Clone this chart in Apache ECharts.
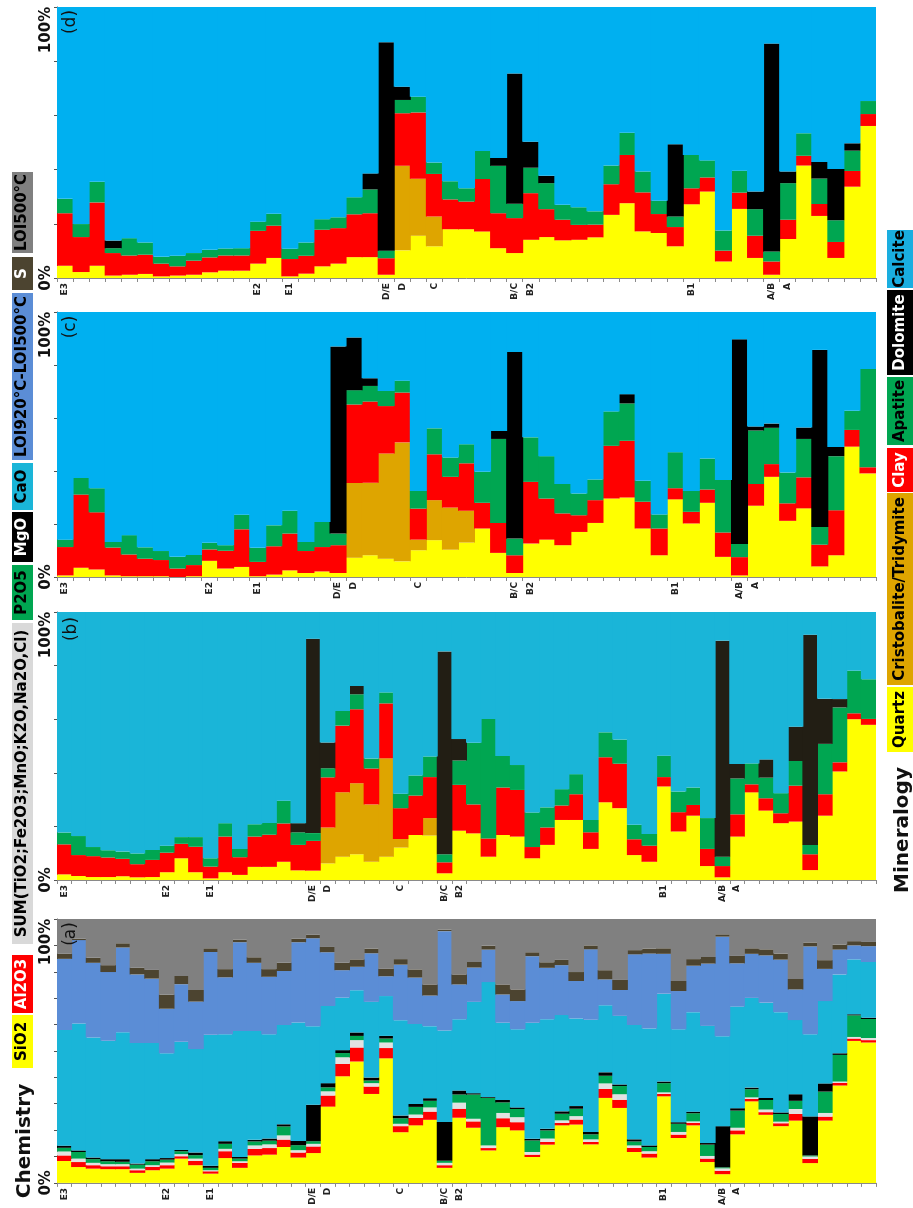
<!DOCTYPE html>
<html><head><meta charset="utf-8">
<script src="https://cdn.jsdelivr.net/npm/echarts/dist/echarts.min.js"></script>
<style>html,body{margin:0;padding:0;background:#fff}#c{width:913px;height:1208px}</style>
</head><body><div id="c"></div>
<script>
// ---------- category (stratigraphic) labels ----------
const unitNames = ['E3','E2','E1','D/E','D','C','B/C','B2','B1','A/B','A'];
const unitIdxAB = [0,7,10,17,18,23,26,27,41,45,46];
const unitIdxC  = [0,9,12,17,18,22,28,29,38,42,43];
const unitIdxD  = [0,12,14,20,21,23,28,29,39,44,45];

// ---------- (a) Chemistry, 56 samples (%) ----------
const aSiO2 = [8.3,6.0,5.4,5.2,5.2,3.8,4.8,5.4,9.2,6.7,3.5,9.4,5.7,10.4,10.7,13.6,9.6,11.3,28.9,40.4,46.0,33.7,47.2,19.2,21.8,23.9,5.7,24.7,20.9,12.3,21.1,19.9,9.8,14.5,21.8,22.1,14.6,32.2,28.4,11.7,9.6,32.8,17.0,21.8,7.9,3.3,18.4,30.9,25.8,21.5,23.6,7.5,23.6,36.9,53.8,53.2];
const aAl2O3 = [2.1,1.9,1.3,1.1,1.1,1.0,1.3,1.3,0.9,1.6,0.9,2.6,1.9,2.5,2.5,2.8,1.9,2.5,4.2,4.7,5.3,2.8,3.9,2.3,2.8,3.1,1.0,3.4,2.4,0.9,3.4,3.1,0.9,1.0,0.9,1.9,0.9,3.4,3.1,1.6,1.5,0.9,1.3,0.9,1.3,1.3,1.5,0.9,1.0,1.1,2.5,1.6,1.5,1.0,0.9,0.9];
const aSUM = [1.5,1.3,0.9,0.8,0.8,0.6,0.6,1.0,0.8,0.9,0.4,0.9,0.6,1.3,1.4,1.6,0.9,1.0,1.6,2.5,2.8,1.3,2.1,0.9,1.3,1.6,0.9,2.3,1.0,1.0,2.0,1.9,1.0,1.3,1.0,1.3,1.0,2.1,2.1,0.9,0.9,0.6,1.0,0.6,1.0,0.9,1.0,0.6,1.0,0.6,1.9,0.9,1.4,0.5,0.6,0.8];
const aP2O5 = [1.4,2.5,1.4,1.1,0.9,1.5,1.5,1.1,1.1,1.3,0.9,1.9,1.0,1.5,1.4,3.4,1.9,1.0,1.5,1.6,1.6,1.0,1.5,2.1,2.9,2.5,0.8,3.1,9.2,18.0,4.0,3.1,4.4,3.1,2.5,2.8,1.9,2.9,3.1,1.5,1.6,3.5,3.1,3.1,4.3,0.4,6.5,3.1,3.6,2.9,3.1,0.4,8.1,10.1,8.2,7.2];
const aMgO = [0.8,0.6,0.6,0.8,1.0,0.4,0.8,0.6,0.5,1.0,0.8,1.0,0.6,0.6,0.8,0.8,1.6,13.8,1.6,1.1,1.3,1.1,1.0,1.0,1.1,1.0,14.7,1.5,0.5,0.3,0.9,0.6,0.6,0.6,0.9,1.0,0.9,1.3,0.6,0.8,0.6,0.6,0.6,0.6,0.6,15.6,0.9,0.6,0.8,0.6,2.5,14.8,3.1,0.6,0.4,0.5];
const aCaO = [43.8,48.1,45.5,44.9,48.1,45.7,44.0,39.7,41.0,39.2,49.6,40.5,47.8,41.3,39.5,37.6,44.9,29.8,29.2,19.9,16.0,28.7,15.1,36.1,30.3,27.3,34.6,27.0,34.6,43.6,29.3,29.6,44.0,41.5,36.5,33.2,42.5,25.4,26.0,43.3,44.3,33.3,35.2,37.7,44.4,34.1,38.5,34.0,36.1,38.0,28.1,31.1,31.2,29.9,20.8,21.1];
const aLOI = [27.0,31.6,28.3,26.0,32.1,26.0,24.4,16.9,21.8,18.0,31.4,21.6,33.6,25.8,21.8,20.5,30.4,33.3,20.4,10.4,8.9,18.4,7.5,21.1,17.6,11.6,37.7,13.2,13.0,12.3,10.7,10.7,25.2,19.5,18.9,14.2,26.7,9.8,9.8,26.8,28.4,15.1,14.5,17.6,23.6,37.7,16.4,16.7,17.9,19.9,11.6,33.3,12.2,9.4,5.3,6.0];
const aS = [1.9,0.5,1.9,2.6,1.6,2.5,3.3,5.3,3.1,4.4,1.4,3.1,1.0,2.1,2.9,3.1,1.3,1.3,2.0,2.8,2.8,1.8,2.8,2.1,3.1,4.2,0.6,3.8,2.1,1.5,3.8,4.4,1.5,2.1,2.0,3.4,1.5,3.5,3.8,1.6,1.9,2.1,3.8,2.5,2.5,0.9,2.8,2.1,2.3,2.3,4.0,1.5,3.3,1.9,1.6,1.6];
const aLOI500 = [13.2,7.5,14.7,17.5,9.2,18.5,19.3,28.7,21.6,26.9,11.1,19.0,7.8,14.5,19.0,16.6,7.5,6.0,10.6,16.6,15.3,11.2,18.9,15.2,19.1,24.8,4.0,21.0,16.3,10.1,24.8,26.7,12.6,16.4,15.5,20.1,10.0,19.4,23.1,11.8,11.2,11.1,23.5,15.2,14.4,5.8,14.0,11.1,11.5,13.1,22.7,8.9,15.6,9.7,8.4,8.7];

// ---------- (b) Mineralogy, 56 samples (%) ----------
const bQuartz = [2.1,1.5,1.1,1.1,1.4,1.0,1.1,2.9,8.1,2.9,0.6,2.9,1.9,4.9,4.9,6.8,3.6,3.5,6.2,8.7,9.6,6.8,8.7,12.1,16.8,16.6,2.5,18.4,17.4,8.7,16.8,16.2,8.1,13.1,22.4,22.4,11.6,29.0,26.8,9.3,6.8,34.9,18.1,24.0,5.2,1.0,16.2,32.7,25.9,21.2,21.8,3.7,24.0,40.5,60.0,57.9];
const bCristo = [0,0,0,0,0,0,0,0,0,0,0,0,0,0,0,0,0,0,13.4,24.0,26.5,21.4,36.7,3.2,0,6.5,0,0,0,0,0,0,0,0,0,0,0,0,0,0,0,0,0,0,0,0,0,0,0,0,0,0,0,0,0,0];
const bClay = [11.2,7.8,7.8,7.3,6.5,4.9,6.4,7.3,5.4,9.5,4.4,13.3,6.6,11.3,12.0,14.3,9.5,11.1,18.7,24.9,27.6,13.4,20.5,11.5,14.7,15.3,4.1,17.1,10.8,6.8,17.7,17.4,4.2,6.5,5.4,9.6,6.2,16.8,16.6,5.9,6.0,3.5,7.2,4.0,6.4,4.2,8.3,3.0,4.6,3.7,13.4,5.9,8.0,3.4,2.2,2.2];
const bApatite = [4.4,7.1,3.4,2.7,2.7,4.0,3.7,2.6,2.5,3.6,3.1,5.0,3.1,4.6,4.4,8.5,4.7,2.9,3.4,5.5,5.6,3.7,4.1,5.4,7.5,7.7,3.0,9.1,23.0,44.6,11.8,9.3,12.9,7.5,6.1,7.5,4.6,9.3,9.0,5.4,4.4,8.0,7.7,6.5,11.5,3.5,13.4,7.8,7.7,7.5,9.2,3.5,18.8,20.5,15.9,14.8];
const bDolomite = [0,0,0,0,0,0,0,0,0,0,0,0,0,0,0,0,3.4,72.5,9.6,0,3.1,0,0,0,0,0,75.7,8.0,0,0,0,0,0,0,0,0,0,0,0,0,0,0,0,0,0,80.6,5.4,0,6.8,0,12.8,78.4,16.8,3.1,0,0];
const bCalcite = [82.3,83.6,87.7,88.9,89.4,90.1,88.8,87.2,84.0,84.0,91.9,78.8,88.4,79.2,78.7,70.4,78.8,10.0,48.7,36.9,27.6,54.7,30.0,67.8,61.0,53.9,14.7,47.4,48.8,39.9,53.7,57.1,74.8,72.9,66.1,60.5,77.6,44.9,47.6,79.4,82.8,53.6,67.0,65.5,76.9,10.7,56.7,56.5,55.0,67.6,42.8,8.5,32.4,32.5,21.9,25.1];

// ---------- (c) Mineralogy, 51 samples (%) ----------
const cQuartz = [0.6,3.5,2.8,0.6,0.3,0.3,0.3,0,0.3,6.1,3.2,3.8,0.3,0.9,2.5,1.5,2.1,1.5,7.3,8.2,6.9,5.9,10.1,13.9,10.3,13.0,18.3,9.1,1.5,12.6,14.1,12.0,17.0,20.4,29.6,30.0,18.3,8.2,29.3,20.2,28.0,7.6,0.6,26.9,37.8,21.2,25.9,4.0,8.2,49.2,39.1];
const cCristo = [0,0,0,0,0,0,0,0,0,0,0,0,0,0,0,0,0,0,28.2,27.4,39.7,44.9,4.0,15.1,15.9,12.0,0,0,0,0,0,0,0,0,0,0,0,0,0,0,0,0,0,0,0,0,0,0,0,0,0];
const cClay = [10.7,27.6,21.6,10.5,8.2,6.6,6.1,3.2,4.2,4.3,6.7,14.2,5.4,10.7,13.9,8.3,9.2,10.5,29.6,30.6,17.9,18.8,11.7,17.3,11.6,17.9,9.7,11.3,6.7,23.3,15.5,12.0,6.3,8.6,19.9,21.4,10.1,10.1,4.2,4.4,5.0,9.2,6.9,8.2,4.8,6.6,11.7,8.2,17.0,6.3,2.3];
const cApatite = [2.8,6.3,9.1,2.1,7.3,4.3,3.4,4.4,3.8,2.5,2.1,5.5,5.3,7.9,8.6,3.4,9.5,4.4,5.4,5.9,5.7,4.5,6.7,9.8,7.3,7.2,11.7,31.7,6.3,16.8,16.0,11.1,8.2,7.8,13.0,14.1,7.9,5.3,13.6,7.9,11.7,19.8,5.0,20.2,13.7,11.6,14.5,6.7,20.4,7.2,37.1];
const cDolomite = [0,0,0,0,0,0,0,0,0,0,0,0,0,0,0,0,0,70.6,19.9,2.9,0,0,0,0,0,0,0,3.0,70.4,0,0,0,0,0,0,3.5,0,0,0,0,0,0,77.2,1.5,1.6,0,4.3,66.8,3.5,0,0];
const cCalcite = [85.9,62.6,66.5,86.8,84.2,88.8,90.2,92.4,91.7,87.1,88.0,76.5,89.0,80.5,75.0,86.8,79.2,13.0,9.6,25.0,29.8,25.9,67.5,43.9,54.9,49.9,60.3,44.9,15.1,47.3,54.4,64.9,68.5,63.2,37.5,31.0,63.7,76.4,52.9,67.5,55.3,63.4,10.3,43.2,42.1,60.6,43.6,14.3,50.9,37.3,21.5];

// ---------- (d) Mineralogy, 51 samples (%) ----------
const dQuartz = [4.5,2.2,4.5,0.9,1.2,1.5,0.6,0.9,1.2,2.1,2.7,2.7,5.3,7.4,0.6,1.6,4.3,5.3,7.7,7.7,1.2,10.2,15.6,11.7,18.0,18.0,17.2,11.0,9.2,14.1,15.1,13.9,14.1,15.0,23.3,27.6,17.2,16.6,11.7,27.2,31.9,6.1,25.5,7.4,1.2,14.4,41.5,22.9,7.4,33.7,56.1];
const dCristo = [0,0,0,0,0,0,0,0,0,0,0,0,0,0,0,0,0,0,0,0,0,31.2,21.0,11.0,0,0,0,0,0,0,0,0,0,0,0,0,0,0,0,0,0,0,0,0,0,0,0,0,0,0,0];
const dClay = [19.4,12.9,23.4,8.3,7.1,7.1,4.7,3.4,5.2,5.5,5.6,5.6,12.1,11.9,6.4,6.6,13.5,13.1,15.8,16.2,6.1,19.4,24.5,15.7,11.0,10.2,19.3,12.9,12.9,17.2,10.3,7.6,5.5,4.7,11.3,17.8,14.4,7.0,7.1,5.9,5.2,4.0,6.0,8.2,4.9,7.1,3.6,4.4,5.9,5.8,4.4];
const dApatite = [5.3,4.8,7.6,1.8,6.4,4.5,2.5,3.9,2.8,2.8,2.6,2.7,3.4,4.4,3.8,4.9,3.9,4.0,6.3,8.8,2.8,4.9,5.8,4.2,6.7,4.9,10.4,17.5,5.3,9.4,9.6,5.5,6.5,4.9,6.9,8.2,7.7,4.9,3.9,12.3,6.3,7.4,8.1,9.8,3.7,13.5,8.3,9.4,8.0,7.5,4.8];
const dDolomite = [0,0,0,2.8,0,0,0,0,0,0,0,0,0,0,0,0,0,0,0,5.9,76.9,4.9,0,0,0,0,0,2.9,48.1,9.6,2.7,0,0,0,0,0,0,0,26.7,0,0,0,0,6.5,76.7,4.3,0,6.1,18.9,2.7,0];
const dCalcite = [70.8,80.1,64.5,86.2,85.3,86.9,92.2,91.8,90.8,89.6,89.1,89.0,79.2,76.3,89.2,86.9,78.3,77.6,70.2,61.4,13.0,29.4,33.1,57.4,64.3,66.9,53.1,55.7,24.5,49.7,62.3,73.0,73.9,75.4,58.5,46.4,60.7,71.5,50.6,54.6,56.6,82.5,60.4,68.1,13.5,60.7,46.6,57.2,59.8,50.3,34.7];

// ---------- styling ----------
const F = 'DejaVu Sans';
const chemNames = ['SiO2','Al2O3','SUM','P2O5','MgO','CaO','LOI920-LOI500','S','LOI500'];
const chemColors = ['#ffff00','#ff0000','#e2e2e2','#00a651','#000000','#1ab5d8','#5b8dd6','#4c4430','#808080'];
const minNames = ['Quartz','Cristobalite/Tridymite','Clay','Apatite','Dolomite','Calcite'];
const minColorsB = ['#ffff00','#dea500','#ff0000','#00a651','#221e14','#1ab5d8'];
const minColorsCD = ['#ffff00','#dea500','#ff0000','#00a651','#000000','#00b0f0'];

const grids = [
  {left:57, top:919, width:819, height:265},  // a
  {left:57, top:612, width:819, height:268},  // b
  {left:57, top:312, width:819, height:265},  // c
  {left:57, top:7,   width:819, height:271}   // d
];
const counts = [aSiO2.length, bQuartz.length, cQuartz.length, dQuartz.length];
const idxSets = [unitIdxAB, unitIdxAB, unitIdxC, unitIdxD];

const xAxes = counts.map((n,g)=>{
  const idx = idxSets[g];
  const cats = Array.from({length:n},(_,i)=>String(i));
  return {
    type:'category', gridIndex:g, data:cats, boundaryGap:true,
    axisLine:{show:true, lineStyle:{color:'#8a8a8a', width:1}},
    axisTick:{show:true, interval:0, length:4, lineStyle:{color:'#8a8a8a'}},
    axisLabel:{interval:0, rotate:90, margin:5, fontSize:9, fontWeight:'bold', fontFamily:F, color:'#222',
      formatter:(v)=>{const k=idx.indexOf(+v); return k>=0?unitNames[k]:'';}}
  };
});
const labFont = {fontSize:15, fontWeight:'bold', fontFamily:F, color:'#111'};
const yAxes = grids.map((gr,g)=>({
  type:'value', gridIndex:g, min:0, max:100, interval: g===0?10:20,
  splitLine:{show:false},
  axisLine:{show:true, lineStyle:{color:'#555'}},
  axisTick:{show:true, length:3, lineStyle:{color:'#555'}},
  axisLabel:{rotate:90, align:'center', verticalAlign:'middle', margin:11,
    fontSize:15, fontWeight:'bold', fontFamily:F, color:'#111',
    rich:{ zero:Object.assign({}, labFont), top:Object.assign({padding:[0,46,0,0]}, labFont) },
    formatter:(v)=> v===0?'{zero|0%}':(v===100?'{top|100%}':'')}
}));

function mk(g, names, colors, arrays){
  // slightly overlapping bars so neighbouring samples join without seams
  const bw = grids[g].width / counts[g] + 1;
  return arrays.map((arr,k)=>({
    type:'bar', name:names[k], stack:'s'+g, xAxisIndex:g, yAxisIndex:g,
    data:arr, barWidth:bw, itemStyle:{color:colors[k]}, silent:true
  }));
}
const series = [].concat(
  mk(0, chemNames, chemColors, [aSiO2,aAl2O3,aSUM,aP2O5,aMgO,aCaO,aLOI,aS,aLOI500]),
  mk(1, minNames, minColorsB, [bQuartz,bCristo,bClay,bApatite,bDolomite,bCalcite]),
  mk(2, minNames, minColorsCD, [cQuartz,cCristo,cClay,cApatite,cDolomite,cCalcite]),
  mk(3, minNames, minColorsCD, [dQuartz,dCristo,dClay,dApatite,dDolomite,dCalcite])
);

// ---------- rotated legend boxes & titles ----------
const R = Math.PI/2;
function box(x,w,y0,y1,fill,text,tc){
  return [
    {type:'rect', z:100, shape:{x:x,y:y0,width:w,height:y1-y0}, style:{fill:fill}, silent:true},
    {type:'text', z:101, x:x+w/2, y:(y0+y1)/2, rotation:R, silent:true,
     style:{text:text, fill:tc, font:'bold 15px "'+F+'"', align:'center', verticalAlign:'middle'}}
  ];
}
function title(x,yMid,text,size,weight){
  return {type:'text', z:101, x:x, y:yMid, rotation:R, silent:true,
    style:{text:text, fill:'#111', font:(weight||'bold')+' '+size+'px "'+F+'"', align:'center', verticalAlign:'middle'}};
}
const graphics = [].concat(
  box(12,21,172,253,'#808080','LOI500°C','#000'),
  box(12,21,257,290,'#4c4430','S','#fff'),
  box(12,21,293,460,'#5b8dd6','LOI920°C-LOI500°C','#000'),
  box(12,21,463,510,'#1ab5d8','CaO','#000'),
  box(12,21,512,562,'#000000','MgO','#fff'),
  box(12,21,565,620,'#00a651','P2O5','#000'),
  box(12,21,623,944,'#d9d9d9','SUM(TiO2;Fe2O3;MnO;K2O,Na2O,Cl)','#000'),
  box(12,21,955,1013,'#ff0000','Al2O3','#fff'),
  box(12,21,1015,1068,'#ffff00','SiO2','#000'),
  [title(25,1141,'Chemistry',20)],
  box(887,26,230,288,'#1aaee0','Calcite','#000'),
  box(887,26,290,375,'#000000','Dolomite','#fff'),
  box(887,26,377,445,'#00a651','Apatite','#000'),
  box(887,26,448,492,'#ff0000','Clay','#fff'),
  box(887,26,493,685,'#dea500','Cristobalite/Tridymite','#000'),
  box(887,26,687,752,'#ffff00','Quartz','#000'),
  [title(903,830,'Mineralogy',20)],
  [title(71,934,'(a)',17,'normal'), title(72,629,'(b)',17,'normal'), title(71,327,'(c)',17,'normal'), title(71,22,'(d)',17,'normal')]
);

const chart = echarts.init(document.getElementById('c'), null, {renderer:'canvas'});
chart.setOption({
  animation:false,
  backgroundColor:'#ffffff',
  grid:grids, xAxis:xAxes, yAxis:yAxes, series:series,
  graphic:{elements:graphics}
});
</script></body></html>
